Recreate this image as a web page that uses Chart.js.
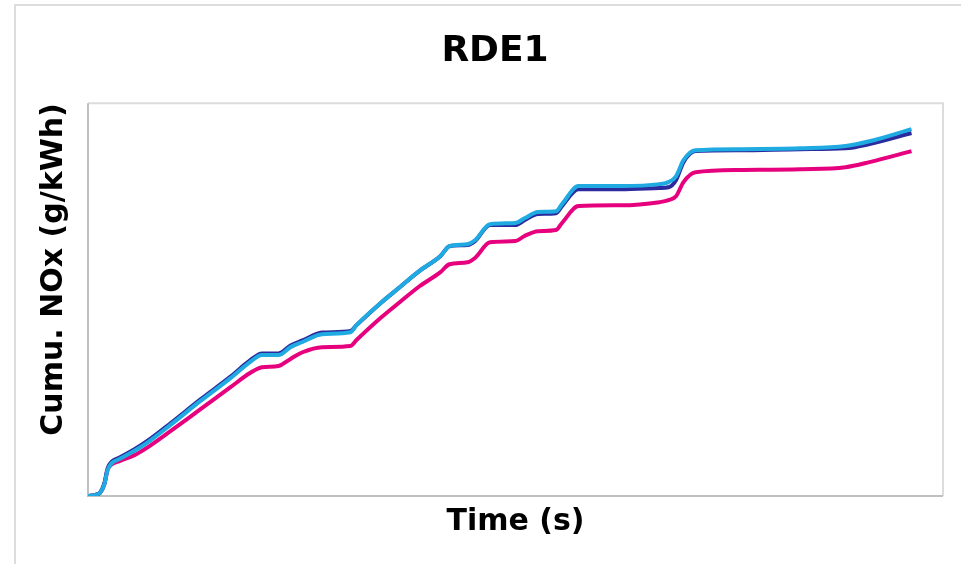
<!DOCTYPE html>
<html>
<head>
<meta charset="utf-8">
<title>RDE1</title>
<script src="https://cdn.jsdelivr.net/npm/chart.js@4.4.1/dist/chart.umd.min.js"></script>
<style>
  html, body { margin: 0; padding: 0; background: #fff; }
  #wrap { width: 961px; height: 564px; }
</style>
</head>
<body>
<div id="wrap"><canvas id="rde1" width="961" height="564"></canvas></div>
<script>
// time axis (s)
var time = [0, 50, 80, 110, 130, 160, 210, 310, 410, 550, 750, 950, 1080, 1160, 1270,
  1350, 1430, 1560, 1750, 1790, 1950, 2080, 2210, 2350, 2410, 2530, 2580, 2680, 2850,
  2910, 3000, 3120, 3160, 3270, 3550, 3810, 3870, 3920, 3970, 4050, 4350, 4750, 5050,
  5210, 5490];

// cumulative NOx, three runs
var navy = [0, 0.003, 0.008, 0.034, 0.070, 0.088, 0.098, 0.119, 0.144, 0.185, 0.246,
  0.304, 0.345, 0.363, 0.363, 0.383, 0.396, 0.416, 0.420, 0.435, 0.491, 0.532, 0.573,
  0.611, 0.636, 0.639, 0.649, 0.690, 0.690, 0.702, 0.718, 0.720, 0.738, 0.781, 0.781,
  0.784, 0.786, 0.804, 0.850, 0.878, 0.880, 0.883, 0.885, 0.896, 0.924];

var cyan = [0, 0.003, 0.008, 0.031, 0.066, 0.084, 0.094, 0.115, 0.140, 0.181, 0.242,
  0.300, 0.341, 0.359, 0.359, 0.379, 0.392, 0.412, 0.417, 0.435, 0.491, 0.532, 0.573,
  0.611, 0.636, 0.641, 0.651, 0.692, 0.695, 0.707, 0.723, 0.725, 0.743, 0.789, 0.789,
  0.794, 0.799, 0.814, 0.855, 0.880, 0.883, 0.885, 0.891, 0.903, 0.934];

var magenta = [0, 0.003, 0.008, 0.031, 0.066, 0.081, 0.089, 0.104, 0.127, 0.165, 0.221,
  0.277, 0.313, 0.328, 0.331, 0.349, 0.366, 0.379, 0.382, 0.397, 0.453, 0.494, 0.534,
  0.570, 0.590, 0.595, 0.606, 0.646, 0.649, 0.662, 0.674, 0.677, 0.695, 0.738, 0.740,
  0.748, 0.753, 0.763, 0.799, 0.824, 0.830, 0.832, 0.837, 0.850, 0.878];

function pts(vals) {
  var out = [];
  for (var i in time) {
    out.push({x: time[i], y: vals[i]});
  }
  return out;
}

function line(label, color, vals) {
  return {
    label: label,
    data: pts(vals),
    borderColor: color,
    backgroundColor: color,
    borderWidth: 4,
    pointRadius: 0,
    cubicInterpolationMode: 'monotone',
    fill: false
  };
}

// excel style frames: outer chart frame + plot area box
var frames = {
  id: 'frames',
  beforeDatasetsDraw: function(chart) {
    var ctx = chart.ctx;
    var a = chart.chartArea;
    ctx.save();
    ctx.lineWidth = 2;
    ctx.strokeStyle = '#dcdcdc';
    ctx.beginPath();
    ctx.moveTo(15, chart.height);
    ctx.lineTo(15, 5);
    ctx.lineTo(chart.width, 5);
    ctx.stroke();

    ctx.beginPath();
    ctx.moveTo(a.left, a.top);
    ctx.lineTo(a.right, a.top);
    ctx.lineTo(a.right, a.bottom);
    ctx.stroke();

    ctx.strokeStyle = '#c0c0c0';
    ctx.beginPath();
    ctx.moveTo(a.left, a.top);
    ctx.lineTo(a.left, a.bottom);
    ctx.lineTo(a.right, a.bottom);
    ctx.stroke();
    ctx.restore();
  }
};

var font = 'DejaVu Sans, Verdana, sans-serif';

// chart.js paints dataset 0 last, so the cyan run goes first to sit on top
new Chart(document.getElementById('rde1'), {
  type: 'line',
  data: {
    datasets: [
      line('Run 2', '#1faae2', cyan),
      line('Run 1', '#2b2b9e', navy),
      line('Run 3', '#e6007e', magenta)
    ]
  },
  options: {
    responsive: false,
    animation: false,
    devicePixelRatio: 1,
    layout: { padding: { left: 47, right: 18, top: 5, bottom: 20 } },
    plugins: {
      legend: { display: false },
      tooltip: { enabled: false },
      title: {
        display: true,
        text: 'RDE1',
        color: '#000',
        font: { family: font, size: 36, weight: 'bold' },
        padding: { top: 25, bottom: 30 }
      }
    },
    scales: {
      x: {
        type: 'linear',
        min: 0,
        max: 5700,
        ticks: { display: false },
        grid: { display: false, drawTicks: false },
        border: { display: false },
        title: {
          display: true,
          text: 'Time (s)',
          color: '#000',
          font: { family: font, size: 30, weight: 'bold' },
          padding: { top: 8, bottom: 4 }
        }
      },
      y: {
        min: 0,
        max: 1,
        ticks: { display: false },
        grid: { display: false, drawTicks: false },
        border: { display: false },
        title: {
          display: true,
          text: 'Cumu. NOx (g/kWh)',
          align: 'end',
          color: '#000',
          font: { family: font, size: 30, weight: 'bold' },
          padding: { top: -11, bottom: 16 }
        }
      }
    }
  },
  plugins: [frames]
});
</script>
</body>
</html>
